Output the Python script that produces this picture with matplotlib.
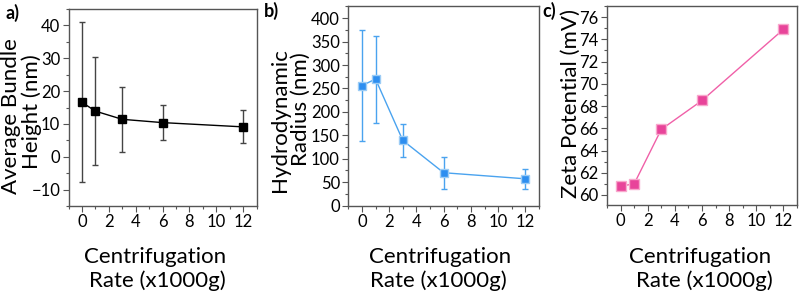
import matplotlib
matplotlib.use("Agg")
import matplotlib.pyplot as plt
from matplotlib.ticker import MultipleLocator

plt.rcParams['font.family'] = ['Lato', 'DejaVu Sans']

rate = [0, 1, 3, 6, 12]
height = [16.6, 13.9, 11.4, 10.4, 9.1]
height_err = [24.3, 16.5, 9.9, 5.3, 5.0]
radius = [256, 270, 139, 70, 57]
radius_err = [118, 93, 35, 34, 22]
zeta = [60.8, 61.0, 65.9, 68.5, 74.9]

W, H = 799, 293
spine_c = "#555555"
LBL = 16

fig = plt.figure(figsize=(W / 100, H / 100), dpi=100)

def box(l, r, t, b):
    return [l / W, 1 - b / H, (r - l) / W, (b - t) / H]

ax_a = fig.add_axes(box(68.5, 256.5, 9, 206))
ax_b = fig.add_axes(box(348.3, 539, 6, 205.5))
ax_c = fig.add_axes(box(607, 797, 6, 205))

def style(ax, ymaj, ymin):
    ax.set_xlim(-1, 13)
    ax.xaxis.set_major_locator(MultipleLocator(2))
    ax.xaxis.set_minor_locator(MultipleLocator(1))
    ax.yaxis.set_major_locator(MultipleLocator(ymaj))
    ax.yaxis.set_minor_locator(MultipleLocator(ymin))
    for s in ax.spines.values():
        s.set_color(spine_c)
        s.set_linewidth(1.0)
    ax.tick_params(which='major', length=4, width=0.8, color=spine_c, labelsize=12, pad=2)
    ax.tick_params(which='minor', length=2, width=0.8, color=spine_c)

def ftext(x, y, s, **kw):
    fig.text(x / W, 1 - y / H, s, **kw)

# a
ax_a.errorbar(rate, height, yerr=height_err, color='black', ecolor='#444444',
              elinewidth=1.0, capsize=2, capthick=1.0, marker='s', markersize=6,
              linewidth=1.0)
ax_a.set_ylim(-15, 45)
style(ax_a, 10, 5)

# b
ax_b.errorbar(rate, radius, yerr=radius_err, color='#4aa3ef', ecolor='#4aa3ef',
              elinewidth=1.0, capsize=2, capthick=1.0, marker='s', markersize=6,
              markerfacecolor='#2d8ef0', markeredgecolor='#9cccf5', linewidth=1.0)
ax_b.set_ylim(0, 426)
style(ax_b, 50, 25)

# c
ax_c.plot(rate, zeta, color='#f060a8', marker='s', markersize=6.5,
          markerfacecolor='#e8449a', markeredgecolor='#f8a8cc', linewidth=1.0)
ax_c.set_ylim(59.1, 77)
style(ax_c, 2, 1)

# y labels
ftext(11, 116, "Average Bundle", rotation=90, ha='center', va='center', fontsize=LBL)
ftext(31.5, 112, "Height (nm)", rotation=90, ha='center', va='center', fontsize=LBL)
ftext(280, 120, "Hydrodynamic", rotation=90, ha='center', va='center', fontsize=LBL)
ftext(301, 109, "Radius (nm)", rotation=90, ha='center', va='center', fontsize=LBL)
ftext(571, 103, "Zeta Potential (mV)", rotation=90, ha='center', va='center', fontsize=LBL)

# x labels
for cx1, cx2 in [(155, 157), (440, 438), (700, 704)]:
    ftext(cx1, 263, "Centrifugation", ha='center', va='baseline', fontsize=LBL)
    ftext(cx2, 287, "Rate (x1000g)", ha='center', va='baseline', fontsize=LBL)

# panel labels
ftext(6, 13, "a)", fontsize=13, fontweight='bold', va='center')
ftext(264, 11, "b)", fontsize=13, fontweight='bold', va='center')
ftext(542, 11, "c)", fontsize=13, fontweight='bold', va='center')

fig.savefig("out.png", dpi=100)
